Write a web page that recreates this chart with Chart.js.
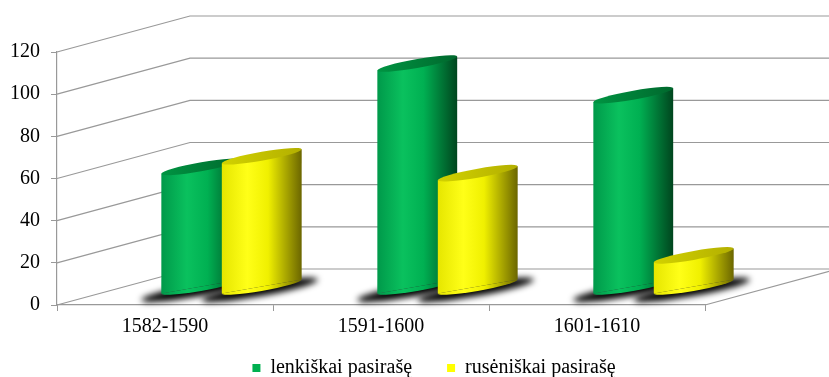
<!DOCTYPE html>
<html><head><meta charset="utf-8">
<script src="https://cdn.jsdelivr.net/npm/chart.js@4.4.1/dist/chart.umd.min.js"></script>
<style>html,body{margin:0;padding:0;background:#fff;}canvas{display:block}</style>
</head><body>
<canvas id="c" width="829" height="377"></canvas>
<script>
// ---- data ----
const categories = ['1582-1590', '1591-1600', '1601-1610'];
const seriesNames = ['lenkiškai pasirašę', 'rusėniškai pasirašę'];
const polishValues = [57, 106, 91];
const ruthenianValues = [62, 54, 15];
const yTicks = [0, 20, 40, 60, 80, 100, 120];

// ---- 3D style constants ----
const DX = 133, DY = -36;     // depth offset of back wall
const SHEAR = -0.175;         // oblique tilt of cylinder caps
const RY = 4.5;               // cap ellipse half-height
const GRID = '#999999';
const LEGEND_SHIFT = 39;      // legend centred under plot + depth
const PAL = [
  {legend: '#00b050',
   body: [[0, '#00994a'], [0.32, '#0ac15e'], [0.58, '#00b052'], [1, '#00451e']],
   top: [[0, '#009442'], [1, '#00682d']]},
  {legend: '#ffff00',
   body: [[0, '#e6e600'], [0.32, '#ffff18'], [0.58, '#f0f000'], [1, '#6b6600']],
   top: [[0, '#d2d200'], [1, '#b3af00']]}
];

Chart.defaults.font.family = "'Liberation Serif', 'Times New Roman', serif";
Chart.defaults.color = '#000';

function grad(ctx, x0, x1, stops) {
  const g = ctx.createLinearGradient(x0, 0, x1, 0);
  stops.forEach(s => g.addColorStop(s[0], s[1]));
  return g;
}
function shearAt(ctx, x) {
  ctx.translate(DX / 2, DY / 2);
  ctx.translate(x, 0); ctx.transform(1, SHEAR, 0, 1, 0, 0); ctx.translate(-x, 0);
}
function drawCyl(ctx, el, pal) {
  const p = el.getProps(['x', 'y', 'base', 'width'], true);
  const rx = p.width / 2;
  ctx.save();
  shearAt(ctx, p.x);
  const gb = grad(ctx, p.x - rx, p.x + rx, pal.body);
  ctx.fillStyle = gb;
  ctx.beginPath(); ctx.ellipse(p.x, p.base, rx, RY, 0, 0, Math.PI); ctx.fill();
  const proxy = Object.create(el);
  proxy.options = Object.assign({}, el.options, {backgroundColor: gb, borderWidth: 0});
  Chart.BarElement.prototype.draw.call(proxy, ctx);
  ctx.fillStyle = grad(ctx, p.x - rx, p.x + rx, pal.top);
  ctx.beginPath(); ctx.ellipse(p.x, p.y, rx, RY, 0, 0, Math.PI * 2); ctx.fill();
  ctx.restore();
}
const noop = function () {};

const threeD = {
  id: 'threeD',
  afterLayout(chart) {
    const lg = chart.legend;
    lg.left += LEGEND_SHIFT; lg.width -= LEGEND_SHIFT;
    lg.top = chart.height - 54; lg.height = 54; lg.bottom = chart.height;
  },
  beforeDatasetsDraw(chart) {
    const ctx = chart.ctx, ys = chart.scales.y, a = chart.chartArea;
    ctx.save();
    ctx.strokeStyle = GRID; ctx.lineWidth = 1.2;
    yTicks.forEach(v => {
      const yy = ys.getPixelForValue(v);
      ctx.beginPath();
      ctx.moveTo(a.left, yy); ctx.lineTo(a.left + DX, yy + DY); ctx.lineTo(chart.width, yy + DY);
      ctx.stroke();
    });
    ctx.beginPath(); ctx.moveTo(a.right, a.bottom); ctx.lineTo(a.right + DX, a.bottom + DY); ctx.stroke();
    ctx.restore();
    // floor shadows
    chart.getSortedVisibleDatasetMetas().forEach(meta => {
      meta.data.forEach(el => {
        const p = el.getProps(['x', 'base', 'width'], true);
        ctx.save();
        shearAt(ctx, p.x);
        ctx.filter = 'blur(3px)';
        ctx.fillStyle = '#000';
        ctx.beginPath(); ctx.ellipse(p.x - 2, p.base + 3, p.width / 2 + 18, 6.5, 0, 0, Math.PI * 2); ctx.fill();
        ctx.restore();
        el.draw = noop;
      });
    });
  },
  afterDatasetsDraw(chart) {
    const ctx = chart.ctx;
    chart.data.datasets.forEach((ds, i) => {
      const meta = chart.getDatasetMeta(i);
      meta.data.forEach(el => drawCyl(ctx, el, PAL[i]));
    });
  }
};

const chart = new Chart(document.getElementById('c'), {
  type: 'bar',
  data: {
    labels: categories,
    datasets: [
      {label: seriesNames[0], data: polishValues, backgroundColor: PAL[0].legend, borderWidth: 0, clip: false},
      {label: seriesNames[1], data: ruthenianValues, backgroundColor: PAL[1].legend, borderWidth: 0, clip: false}
    ]
  },
  options: {
    responsive: false,
    animation: false,
    devicePixelRatio: 1,
    categoryPercentage: 0.56,
    barPercentage: 1.32,
    layout: {padding: {left: 0, right: 0, top: 52, bottom: 0}},
    scales: {
      x: {
        grid: {display: true, drawOnChartArea: false, tickLength: 6, color: GRID, offset: true},
        border: {display: true, color: GRID, width: 1.2},
        ticks: {font: {size: 20}, padding: 4, color: '#000'},
        afterFit(s) { s.height = 40; }
      },
      y: {
        min: 0, max: 120,
        afterBuildTicks(s) { s.ticks = yTicks.map(v => ({value: v})); },
        grid: {display: true, drawOnChartArea: false, tickLength: 6, color: GRID},
        border: {display: true, color: GRID, width: 1.2},
        ticks: {font: {size: 20}, padding: 11, color: '#000'},
        afterFit(s) { s.width = 57; }
      },
      y2: {
        position: 'right', display: true,
        grid: {display: false, drawTicks: false}, border: {display: false},
        ticks: {display: false},
        afterFit(s) { s.width = 124; }
      }
    },
    plugins: {
      tooltip: {enabled: false},
      legend: {
        position: 'bottom',
        maxHeight: 32,
        labels: {font: {size: 20}, boxWidth: 8, boxHeight: 8, padding: 35, color: '#000'}
      }
    }
  },
  plugins: [threeD]
});
</script>
</body></html>
